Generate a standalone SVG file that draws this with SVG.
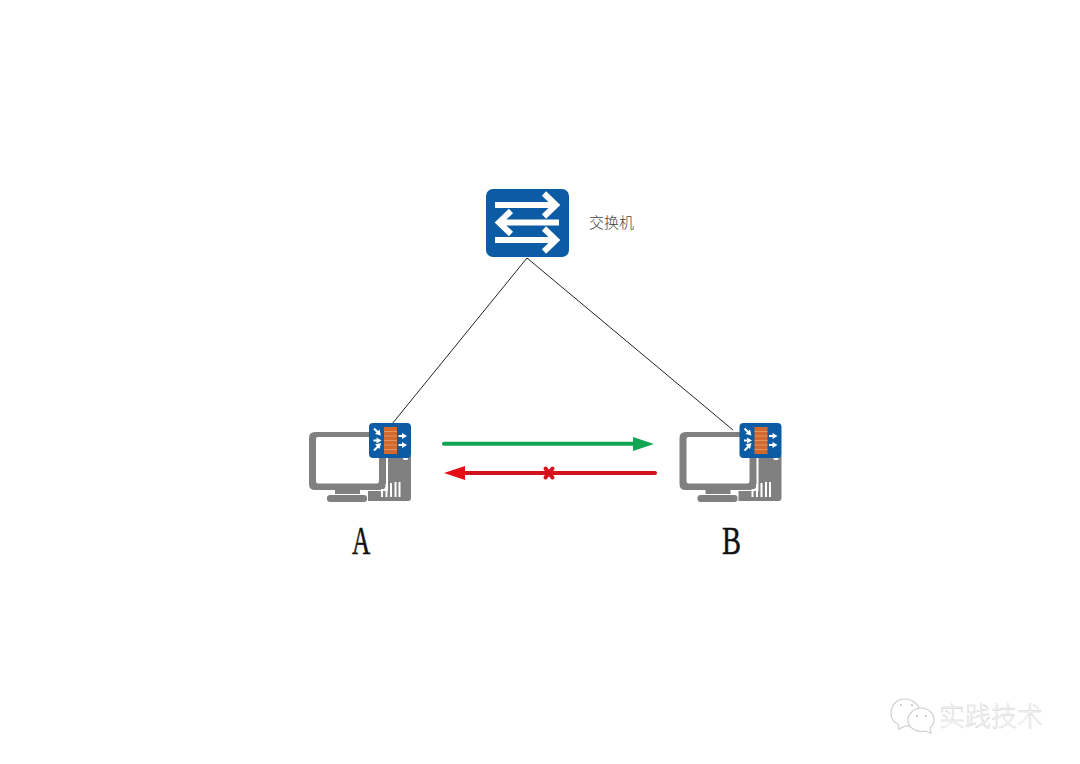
<svg xmlns="http://www.w3.org/2000/svg" width="1080" height="764" viewBox="0 0 1080 764">
<style>
.blue{fill:#0b5ca5}
.wl{fill:none;stroke:#fff;stroke-width:6}
.gray{fill:#808080}
.wa{fill:none;stroke:#fff;stroke-width:2}
.wh{fill:#fff}
.brick{stroke:#e9a878;stroke-width:.7;fill:none}
.link{stroke:#222;stroke-width:1;fill:none}
.cn{font-family:"Noto Sans CJK SC","Liberation Serif",serif}
.big{font-family:"Liberation Serif",serif;font-size:39px;fill:#111;stroke:#111;stroke-width:.5}
.bub{fill:#fff;stroke:#cfcfcf;stroke-width:1.2}
</style>
<defs>
<g id="pc">
<path class="gray" fill-rule="evenodd" d="M315 432H380Q386 432 386 438V484Q386 490 380 490H360V494H335V490H315Q309 490 309 484V438Q309 432 315 432ZM318 437Q316 437 316 439V481Q316 483.500 318 483.500H377Q379 483.500 379 481V439Q379 437 377 437Z"/>
<rect class="gray" x="327" y="495" width="40" height="7" rx="3"/>
<path class="gray" d="M388 456H411V498Q411 501 408 501H368V491H388Z"/>
<path class="wa" d="M382 497V489M386.500 497V484M391 497V483M395.500 497V482M399.500 497V482"/>
<rect class="wh" x="403" y="457" width="5" height="3" rx="1.500"/>
<rect class="blue" x="369" y="423" width="42" height="35" rx="4"/>
<rect x="384" y="427" width="13" height="27" fill="#d2692f"/>
<path class="brick" d="M384 431.500H397M384 436H397M384 440.500H397M384 445H397M384 449.500H397"/>
<path class="wa" d="M374 428.500L378 432.500M373.500 440.500H378M374 450.500L378 446.500M398.500 436H403M398.500 445H403"/>
<path class="wh" d="M381 435.500L375 434L379.500 429.500ZM381.500 440.500L376.500 437.500V443.500ZM381 443L375 444.500L379.500 449ZM407 436L402 433V439ZM407 445L402 442V448Z"/>
</g>
</defs>
<rect width="1080" height="764" fill="#fff"/>
<g id="connectors">
<path class="link" d="M527 258L392 424"/>
<path class="link" d="M527 258L733 430"/>
<path d="M444 443.700H636" stroke="#0fa552" stroke-width="4" stroke-linecap="round" fill="none"/>
<path d="M633 437L654 444L633 451Z" fill="#0fa552"/>
<path d="M655 473H462" stroke="#d5121c" stroke-width="4" stroke-linecap="round" fill="none"/>
<path d="M465 466L444 473L465 480Z" fill="#e60f17"/>
<path d="M545.500 468.500L552.500 477.500M552.500 468.500L545.500 477.500" stroke="#d5121c" stroke-width="4" stroke-linecap="round" fill="none"/>
</g>
<g id="switch">
<rect class="blue" x="486" y="189" width="83" height="68" rx="7"/>
<path class="wl" d="M495 205H555M544 193.500L556 205L544 216.500"/>
<path class="wl" d="M559 222.500H500M511 211L499 222.500L511 234"/>
<path class="wl" d="M495 240H555M544 228.500L556 240L544 251.500"/>
<text class="cn" x="589" y="228" font-size="15" font-weight="300" fill="#444">交换机</text>
</g>
<g id="node-a">
<use href="#pc"/>
<text class="big" transform="translate(352 554) scale(.65 1)">A</text>
</g>
<g id="node-b">
<use href="#pc" x="370.500"/>
<text class="big" transform="translate(722 554) scale(.73 1)">B</text>
</g>
<g id="watermark">
<path class="bub" d="M905 699C913 699 920 705 920 713C920 721 913 726 905 726L899 729L898 724C893 722 891 718 891 713C891 705 897 699 905 699Z"/>
<path class="bub" d="M921 708C929 708 934 714 934 720C934 723 932 726 930 728L931 733L925 731C917 733 908 728 908 720C908 714 914 708 921 708Z"/>
<g fill="#bdbdbd"><circle cx="901" cy="705" r="1"/><circle cx="912" cy="705" r="1"/><circle cx="917" cy="716" r="1"/><circle cx="926" cy="716" r="1"/></g>
<text class="cn" x="939" y="726" font-size="26" font-weight="300" fill="#fafafa" stroke="#cfcfcf" stroke-width=".4">实践技术</text>
</g>
</svg>
